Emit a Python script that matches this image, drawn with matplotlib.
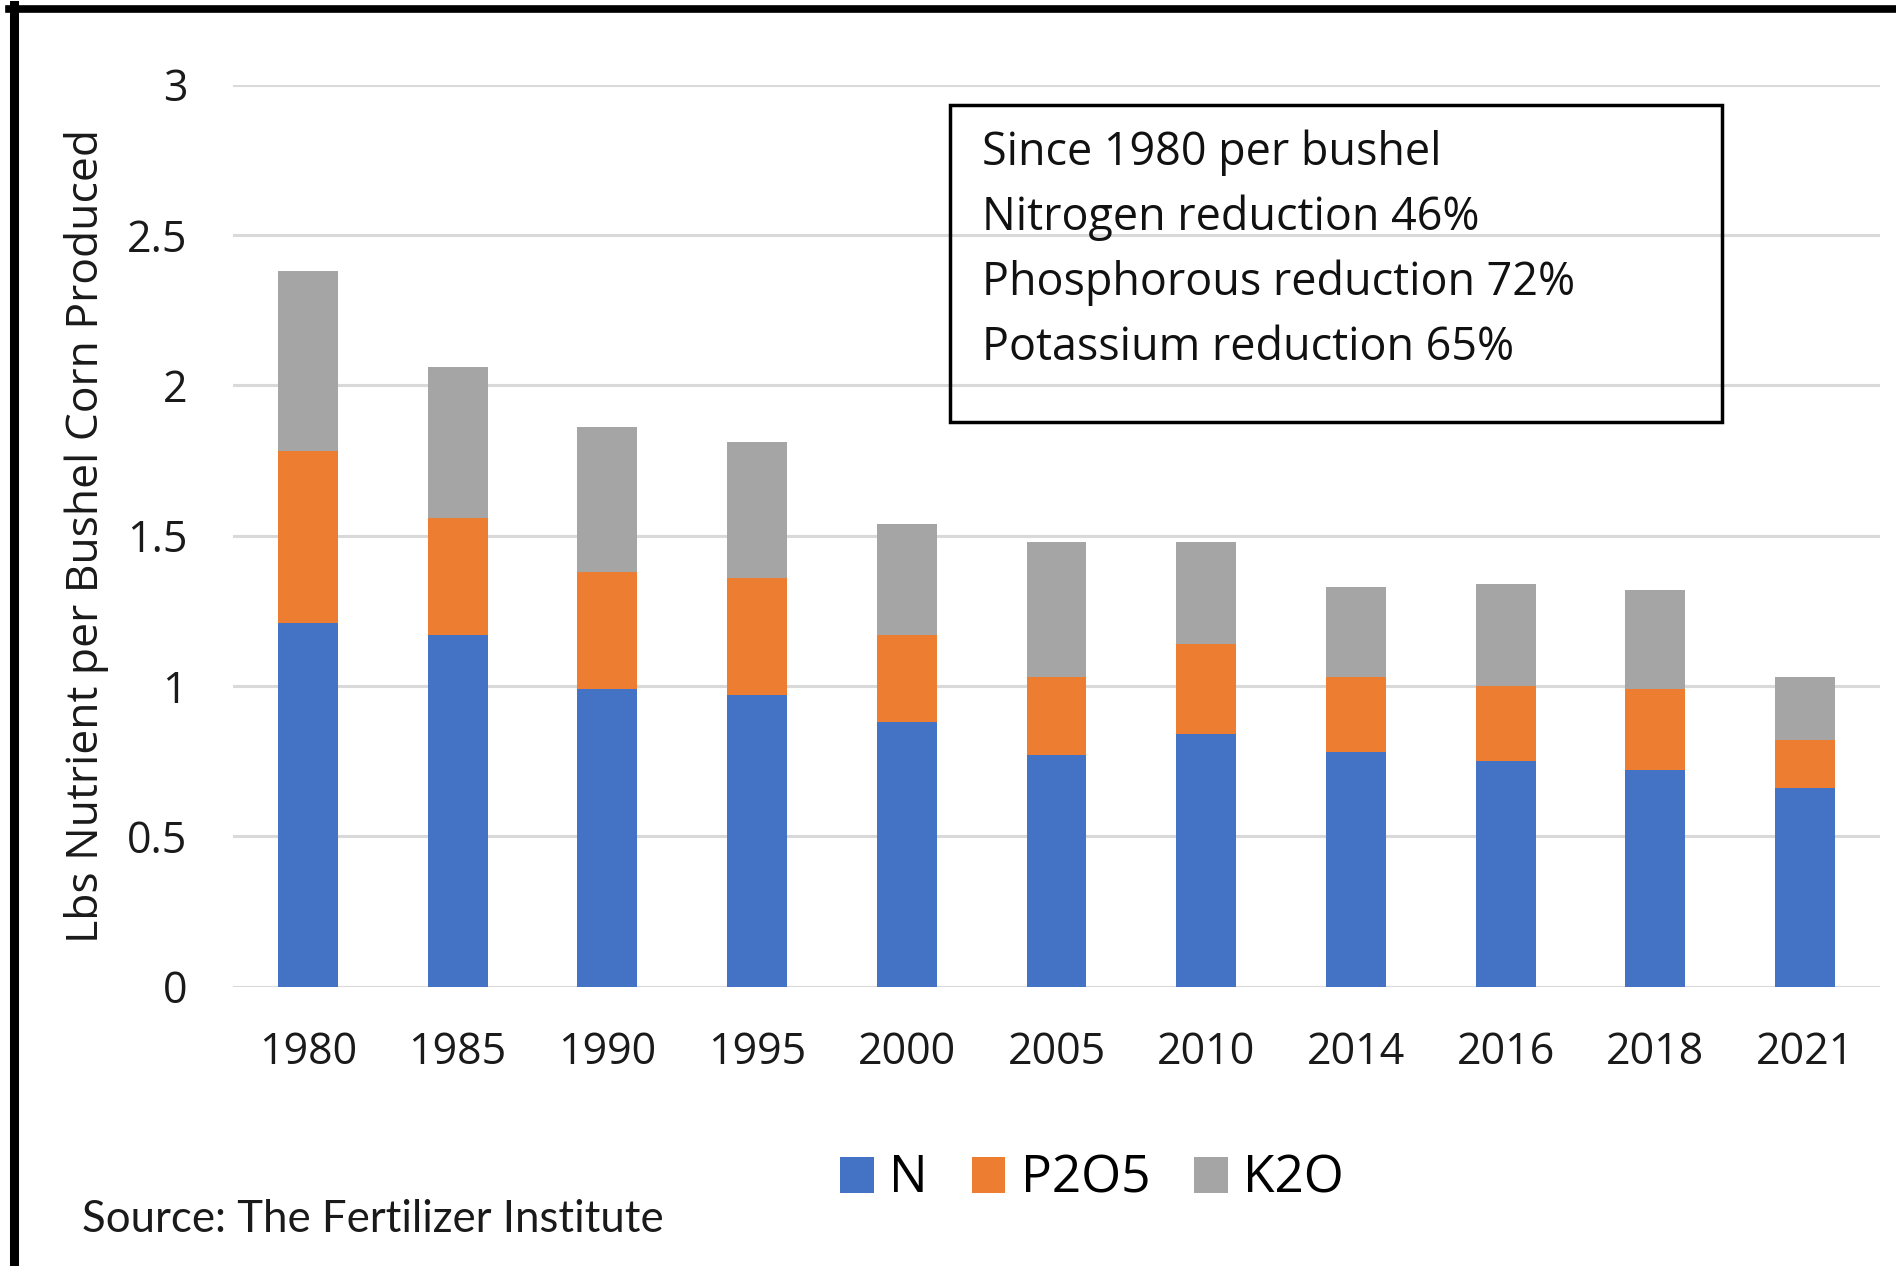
import matplotlib
matplotlib.use("Agg")
import matplotlib.pyplot as plt
from matplotlib.lines import Line2D
import numpy as np

# data (lbs nutrient per bushel of corn)
years = ["1980", "1985", "1990", "1995", "2000", "2005", "2010", "2014", "2016", "2018", "2021"]
n_vals = [1.21, 1.17, 0.99, 0.97, 0.88, 0.77, 0.84, 0.78, 0.75, 0.72, 0.66]
p2o5_vals = [0.57, 0.39, 0.39, 0.39, 0.29, 0.26, 0.30, 0.25, 0.25, 0.27, 0.16]
k2o_vals = [0.60, 0.50, 0.48, 0.45, 0.37, 0.45, 0.34, 0.30, 0.34, 0.33, 0.21]
series_names = ["N", "P2O5", "K2O"]
colors = ["#4472C4", "#ED7D31", "#A5A5A5"]

note_lines = [
    "Since 1980 per bushel",
    "Nitrogen reduction 46%",
    "Phosphorous reduction 72%",
    "Potassium reduction 65%",
]
source_text = "Source: The Fertilizer Institute"
y_label = "Lbs Nutrient per Bushel Corn Produced"

plt.rcParams["font.family"] = ["Open Sans", "DejaVu Sans"]

W, H = 1896, 1266
fig = plt.figure(figsize=(W / 100, H / 100), dpi=100)
ax = fig.add_axes([233 / W, 1 - 986.5 / H, (1880 - 233) / W, (986.5 - 84.6) / H])

x = np.arange(len(years))
bottom = np.zeros(len(years))
for vals, name, c in zip([n_vals, p2o5_vals, k2o_vals], series_names, colors):
    ax.bar(x, vals, width=0.40, bottom=bottom, color=c, label=name, zorder=3)
    bottom += np.array(vals)

ax.set_xlim(-0.5, len(years) - 0.5)
ax.set_ylim(0, 3)
ax.set_yticks([0, 0.5, 1, 1.5, 2, 2.5, 3])
ax.set_yticklabels(["0", "0.5", "1", "1.5", "2", "2.5", "3"])
ax.set_xticks(x)
ax.set_xticklabels(years)
ax.tick_params(axis="both", length=0, labelsize=31, colors="#1a1a1a")
ax.tick_params(axis="x", pad=32)
ax.tick_params(axis="y", pad=33)
ax.grid(axis="y", color="#d9d9d9", linewidth=2.2, zorder=0)
for s in ax.spines.values():
    s.set_visible(False)

# y label placed in figure coords
fig.text(87 / W, 1 - 536 / H, y_label, fontsize=32, rotation=90,
         ha="center", va="center", color="#1a1a1a")

# note box
fig.add_artist(plt.Rectangle((950 / W, 1 - 422 / H), (1722 - 950) / W, (422 - 105) / H,
                             transform=fig.transFigure, fill=False,
                             edgecolor="black", linewidth=2.5))
fig.text(982 / W, 1 - 250 / H, "\n".join(note_lines), fontsize=32.3,
         va="center", ha="left", linespacing=1.53, color="#111111")

fig.legend(loc="center", bbox_to_anchor=(1092 / W, 1 - 1179 / H), ncol=3,
           frameon=False, fontsize=37, handlelength=0.66, handleheight=0.7,
           handletextpad=0.3, columnspacing=0.85)

fig.text(82 / W, 1 - 1219 / H, source_text, fontsize=31.5, family=["Lato", "DejaVu Sans"],
         va="center", ha="left", color="#1a1a1a")

# thick frame on top and left edges
fig.add_artist(Line2D([13.5 / W, 13.5 / W], [0, 1 - 5 / H], color="black",
                      linewidth=6.5, transform=fig.transFigure))
fig.add_artist(Line2D([9 / W, 1], [1 - 8.5 / H, 1 - 8.5 / H], color="black",
                      linewidth=5.5, transform=fig.transFigure))

fig.savefig("out.png", dpi=100, facecolor="white")
